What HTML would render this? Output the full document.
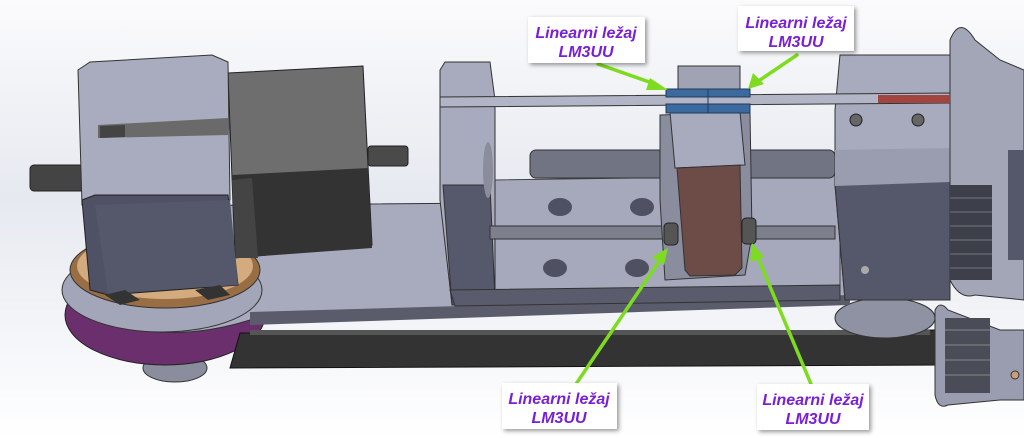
<!DOCTYPE html>
<html><head><meta charset="utf-8"><style>
html,body{margin:0;padding:0;width:1024px;height:438px;overflow:hidden;background:#fff}
svg{display:block}
text{font-family:"Liberation Sans","DejaVu Sans",sans-serif;font-style:italic;font-weight:bold;fill:#7a1fd6;font-size:16px}
</style></head><body>
<svg width="1024" height="438" viewBox="0 0 1024 438" xmlns="http://www.w3.org/2000/svg">
<defs>
<linearGradient id="bg" x1="0" y1="0" x2="0" y2="1">
<stop offset="0" stop-color="#fbfbfc"/><stop offset="0.45" stop-color="#e6e9f0"/><stop offset="1" stop-color="#ffffff"/>
</linearGradient>
<filter id="sh" x="-10%" y="-10%" width="130%" height="140%"><feDropShadow dx="2" dy="2" stdDeviation="2" flood-opacity="0.4"/></filter>
</defs>
<rect width="1024" height="438" fill="url(#bg)"/>

<ellipse cx="175" cy="368" rx="32" ry="14" fill="#8a8d9c" stroke="#333"/>
<ellipse cx="165" cy="315" rx="100" ry="50" fill="#6b2f6e" stroke="#222"/>
<polygon points="240,333 940,330 940,365 230,368" fill="#333" stroke="#111"/>
<rect x="250" y="330" width="680" height="5" fill="#555"/>
<ellipse cx="885" cy="318" rx="50" ry="20" fill="#8f92a2" stroke="#333"/>
<path d="M100,250 Q110,205 250,205 L850,200 L850,300 L250,320 Q170,345 100,320 Q60,295 100,250Z" fill="#a8abbd" stroke="#333"/>
<polygon points="250,312 850,295 850,305 250,325" fill="#5a5c6c"/>
<ellipse cx="162" cy="290" rx="100" ry="42" fill="#a3a6b8" stroke="#333"/>
<ellipse cx="165" cy="270" rx="95" ry="38" fill="#9a6e45" stroke="#333"/>
<ellipse cx="165" cy="266" rx="88" ry="33" fill="#d4ab7e"/>
<rect x="30" y="165" width="55" height="26" rx="4" fill="#444" stroke="#222"/>
<polygon points="228,73 363,66 372,245 235,258" fill="#6e6e6e" stroke="#222"/>
<polygon points="232,175 368,168 372,248 235,258" fill="#333"/>
<polygon points="232,180 252,178 258,258 236,258" fill="#444"/>
<rect x="368" y="146" width="40" height="20" rx="3" fill="#4a4a4a" stroke="#222"/>
<polygon points="78,70 90,62 212,55 228,62 230,200 82,205" fill="#a9acbe" stroke="#333"/>
<polygon points="98,125 228,118 228,135 98,138" fill="#6a6a6a"/>
<polygon points="100,126 125,125 125,137 100,138" fill="#444"/>
<polygon points="82,200 95,195 228,195 238,285 108,295 90,290" fill="#4f5264" stroke="#222"/>
<polygon points="95,205 230,200 238,285 108,293" fill="#55586a"/>
<polygon points="105,295 125,290 140,300 120,305" fill="#333"/>
<polygon points="195,290 220,285 230,295 208,300" fill="#333"/>

<polygon points="495,180 840,175 840,290 495,295" fill="#a6a9bb" stroke="#444"/>
<polygon points="445,62 490,62 495,100 495,300 452,305 440,200 440,70" fill="#a8abbd" stroke="#333"/>
<polygon points="443,185 490,185 495,300 452,305" fill="#56596b" stroke="#333"/>
<ellipse cx="488" cy="170" rx="5" ry="28" fill="#8a8d9c"/>
<polygon points="450,290 840,285 840,300 455,306" fill="#5a5c6e" stroke="#333"/>
<ellipse cx="560" cy="207" rx="12" ry="9" fill="#4f5162"/>
<ellipse cx="642" cy="207" rx="12" ry="9" fill="#4f5162"/>
<ellipse cx="555" cy="268" rx="12" ry="9" fill="#4f5162"/>
<ellipse cx="637" cy="268" rx="12" ry="9" fill="#4f5162"/>
<rect x="530" y="150" width="305" height="28" rx="6" fill="#717483" stroke="#333"/>
<rect x="490" y="226" width="345" height="13" fill="#7c7f8c" stroke="#333"/>
<polygon points="840,55 950,55 950,300 845,300 835,185 835,110" fill="#a8abbd" stroke="#333"/>
<polygon points="835,185 950,180 950,300 845,300" fill="#55586a" stroke="#333"/>
<polygon points="835,150 950,148 950,182 835,186" fill="#9a9db0"/>
<circle cx="856" cy="120" r="6" fill="#666" stroke="#222"/>
<circle cx="918" cy="120" r="6" fill="#666" stroke="#222"/>
<circle cx="865" cy="270" r="4" fill="#aaa"/>
<path d="M950,40 Q960,15 975,40 L1000,60 L1024,70 L1024,300 L975,295 Q960,300 950,280Z" fill="#a3a6b7" stroke="#333"/>
<rect x="950" y="185" width="42" height="95" fill="#3d3f4b"/>
<g stroke="#777" stroke-width="1">
<line x1="950" y1="198" x2="992" y2="198"/><line x1="950" y1="212" x2="992" y2="212"/><line x1="950" y1="226" x2="992" y2="226"/><line x1="950" y1="240" x2="992" y2="240"/><line x1="950" y1="254" x2="992" y2="254"/><line x1="950" y1="268" x2="992" y2="268"/>
</g>
<rect x="1008" y="150" width="16" height="110" fill="#55586a"/>
<path d="M935,310 Q940,300 948,310 L1000,330 L1024,330 L1024,400 L1000,400 L948,405 Q938,410 935,395Z" fill="#9a9db0" stroke="#333"/>
<rect x="945" y="318" width="45" height="75" fill="#4a4c58"/>
<g stroke="#888"><line x1="945" y1="330" x2="990" y2="330"/><line x1="945" y1="345" x2="990" y2="345"/><line x1="945" y1="360" x2="990" y2="360"/><line x1="945" y1="375" x2="990" y2="375"/></g>
<circle cx="1015" cy="375" r="4" fill="#c8a074" stroke="#333"/>
<polygon points="440,97 950,93 950,103 440,107" fill="#b2b5c5" stroke="#333"/>
<rect x="878" y="95" width="72" height="8" fill="#a0453f"/>
<rect x="678" y="66" width="62" height="25" fill="#a0a3b3" stroke="#333"/>
<polygon points="660,115 750,112 752,235 745,275 665,280 660,200" fill="#8a8d9e" stroke="#333"/>
<polygon points="670,112 740,112 745,165 675,168" fill="#a8abbd" stroke="#333"/>
<polygon points="677,168 740,165 742,268 735,275 690,276 685,270" fill="#6d4b47" stroke="#333"/>
<rect x="664" y="223" width="14" height="22" rx="4" fill="#555" stroke="#222"/>
<rect x="742" y="218" width="14" height="26" rx="4" fill="#555" stroke="#222"/>
<rect x="666" y="89" width="84" height="8" fill="#3c6a9e" stroke="#1f3a5a"/>
<rect x="666" y="104" width="84" height="9" fill="#3c6a9e" stroke="#1f3a5a"/>
<line x1="708" y1="89" x2="708" y2="113" stroke="#1f3a5a"/>

<g stroke="#7ddc1f" stroke-width="3.5" fill="#7ddc1f" stroke-linecap="round">
<line x1="598" y1="64" x2="655" y2="84"/>
<polygon points="668,90 650,78 646,90" stroke="none"/>
<line x1="797" y1="55" x2="760" y2="80"/>
<polygon points="748,89 753,73 764,84" stroke="none"/>
<line x1="576" y1="384" x2="660" y2="260"/>
<polygon points="668,248 652,257 664,265" stroke="none"/>
<line x1="811" y1="384" x2="758" y2="258"/>
<polygon points="752,243 750,262 764,257" stroke="none"/>
</g>

<g filter="url(#sh)" fill="#fff">
<rect x="528" y="17" width="117" height="46"/>
<rect x="738" y="6" width="116" height="45"/>
<rect x="502" y="383" width="115" height="46"/>
<rect x="757" y="384" width="112" height="46"/>
</g>
<text x="586" y="38" text-anchor="middle">Linearni ležaj</text>
<text x="586" y="57" text-anchor="middle">LM3UU</text>
<text x="796" y="28" text-anchor="middle">Linearni ležaj</text>
<text x="796" y="47" text-anchor="middle">LM3UU</text>
<text x="559" y="404" text-anchor="middle">Linearni ležaj</text>
<text x="559" y="423" text-anchor="middle">LM3UU</text>
<text x="813" y="405" text-anchor="middle">Linearni ležaj</text>
<text x="813" y="424" text-anchor="middle">LM3UU</text>
</svg>
</body></html>
